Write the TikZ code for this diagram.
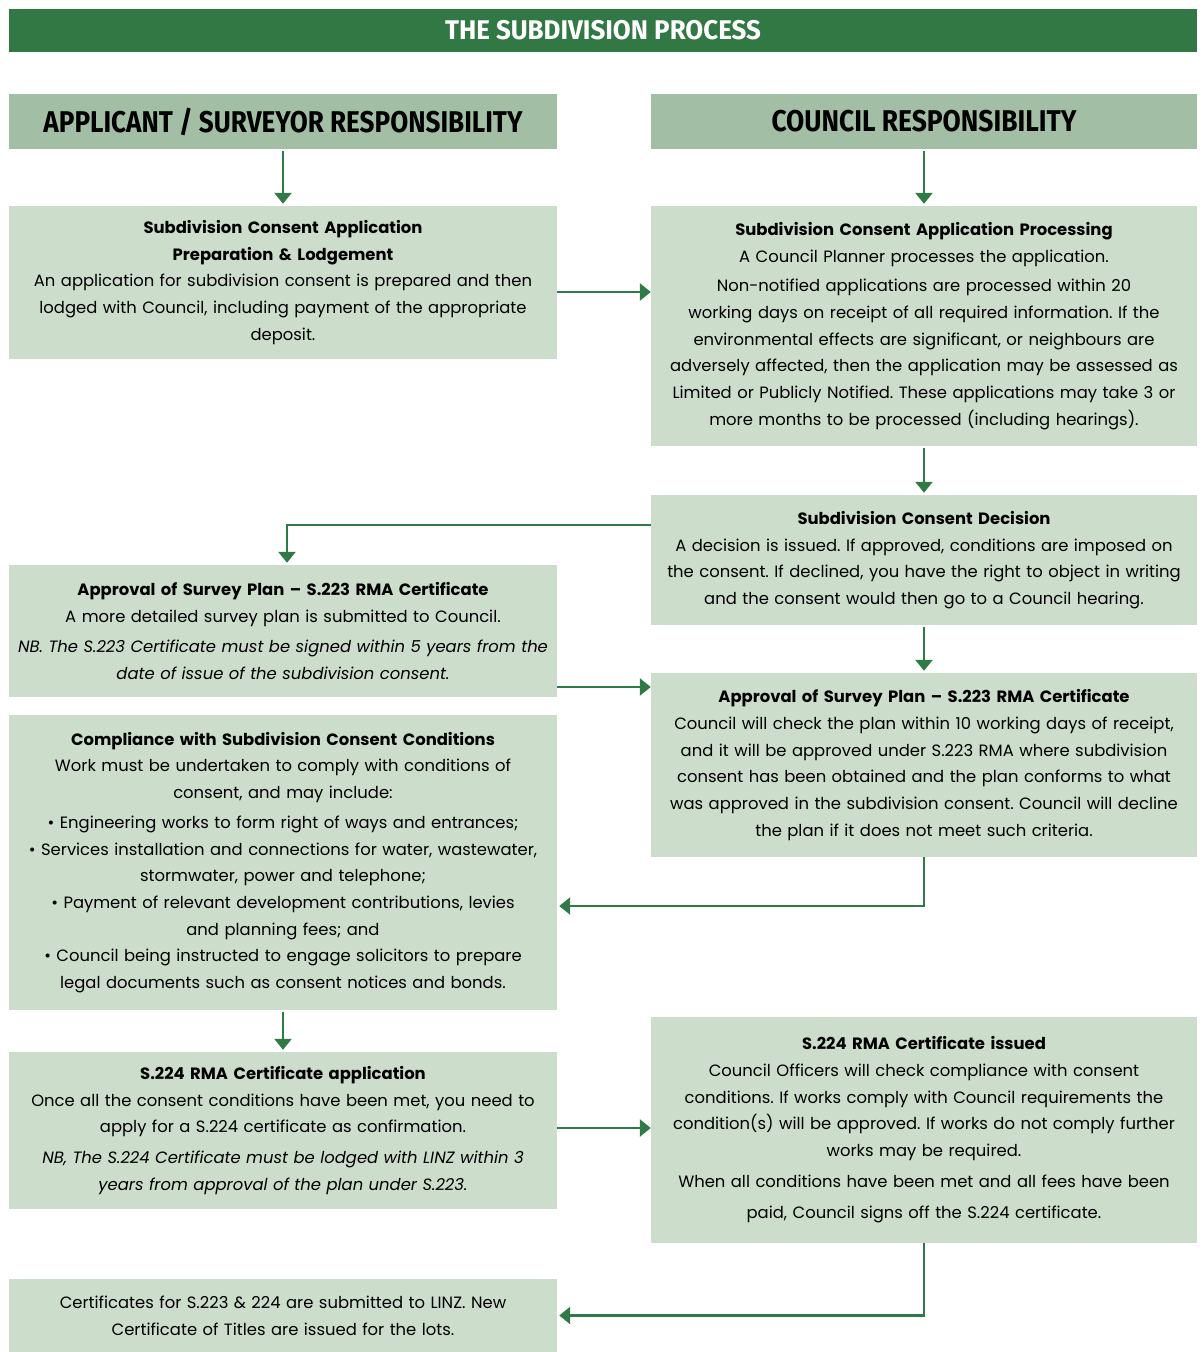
\documentclass[tikz,border=0pt]{standalone}
\usepackage{fontspec}
\setmainfont{Poppins}
\newfontfamily\headfont{Fira Sans}
\usepackage{tikz}
\usetikzlibrary{arrows.meta, calc}
\definecolor{verdescuro}{HTML}{317845}
\definecolor{verdemedio}{HTML}{A2BFA5}
\definecolor{verdechiaro}{HTML}{CCDDCC}
\definecolor{freccia}{HTML}{2F7A46}
\newcommand{\corpo}{\fontsize{16.4}{26.7}\selectfont\frenchspacing}
\newcommand{\stretto}[2]{\scalebox{#1}[1]{#2}}

\begin{document}
\begin{tikzpicture}[x=1pt, y=1pt,
    riquadro/.style = {fill=verdechiaro, minimum width=548pt, text width=540pt, inner sep=0pt, align=center, font=\corpo},
    testata/.style = {fill=verdemedio, minimum width=548pt, minimum height=55pt, inner sep=0pt, font=\headfont\bfseries\fontsize{30}{30}\selectfont},
    frecciona/.style = {draw=freccia, line width=2.6pt, -{Triangle[length=11pt, width=17pt]}}]
    % Riquadro
    \useasboundingbox (0,0) rectangle (1204,-1352);
    % Titolo
    \node[fill=verdescuro, minimum width=1188pt, minimum height=43pt, inner sep=0pt, text=white, font=\headfont\bfseries\fontsize{27}{27}\selectfont] (titolo) at (603,-30.5) {\stretto{0.96}{THE SUBDIVISION PROCESS}};
    % Testate
    \node[testata] (hl) at (283,-121.5) {\stretto{0.87}{APPLICANT / SURVEYOR RESPONSIBILITY}};
    \node[testata, minimum width=546pt] (hr) at (924,-121.5) {\stretto{0.88}{COUNCIL RESPONSIBILITY}};
    % Colonna sinistra
    \node[riquadro, minimum height=153pt] (l1) at (283,-282.5) {\textbf{Subdivision Consent Application}\\
        \textbf{Preparation \& Lodgement}\\
        An application for subdivision consent is prepared and then\\
        lodged with Council, including payment of the appropriate\\
        deposit.};
    \node[riquadro, minimum height=132pt] (l2) at (283,-631) {\textbf{Approval of Survey Plan – S.223 RMA Certificate}\\
        A more detailed survey plan is submitted to Council.\\[3pt]
        \textit{NB. The S.223 Certificate must be signed within 5 years from the}\\
        \textit{date of issue of the subdivision consent.}};
    \node[riquadro, minimum height=295pt] (l3) at (283,-862.5) {\textbf{Compliance with Subdivision Consent Conditions}\\
        Work must be undertaken to comply with conditions of\\
        consent, and may include:\\[3pt]
        • Engineering works to form right of ways and entrances;\\
        • Services installation and connections for water, wastewater,\\
        stormwater, power and telephone;\\
        • Payment of relevant development contributions, levies\\
        and planning fees; and\\
        • Council being instructed to engage solicitors to prepare\\
        legal documents such as consent notices and bonds.};
    \node[riquadro, minimum height=157pt] (l4) at (283,-1130.5) {\textbf{S.224 RMA Certificate application}\\
        Once all the consent conditions have been met, you need to\\
        apply for a S.224 certificate as confirmation.\\[4pt]
        \textit{NB, The S.224 Certificate must be lodged with LINZ within 3}\\
        \textit{years from approval of the plan under S.223.}};
    \node[riquadro, minimum height=73pt] (l5) at (283,-1315.5) {Certificates for S.223 \& 224 are submitted to LINZ. New\\
        Certificate of Titles are issued for the lots.};
    % Colonna destra
    \node[riquadro, minimum width=546pt, minimum height=240pt] (r1) at (924,-326) {\textbf{Subdivision Consent Application Processing}\\
        A Council Planner processes the application.\\[3pt]
        Non-notified applications are processed within 20\\
        working days on receipt of all required information. If the\\
        environmental effects are significant, or neighbours are\\
        adversely affected, then the application may be assessed as\\
        Limited or Publicly Notified. These applications may take 3 or\\
        more months to be processed (including hearings).};
    \node[riquadro, minimum width=546pt, minimum height=130pt] (r2) at (924,-560) {\textbf{Subdivision Consent Decision}\\
        A decision is issued. If approved, conditions are imposed on\\
        the consent. If declined, you have the right to object in writing\\
        and the consent would then go to a Council hearing.};
    \node[riquadro, minimum width=546pt, minimum height=184pt] (r3) at (924,-765) {\textbf{Approval of Survey Plan – S.223 RMA Certificate}\\
        Council will check the plan within 10 working days of receipt,\\
        and it will be approved under S.223 RMA where subdivision\\
        consent has been obtained and the plan conforms to what\\
        was approved in the subdivision consent. Council will decline\\
        the plan if it does not meet such criteria.};
    \node[riquadro, minimum width=546pt, minimum height=226pt] (r4) at (924,-1130) {\textbf{S.224 RMA Certificate issued}\\
        Council Officers will check compliance with consent\\
        conditions. If works comply with Council requirements the\\
        condition(s) will be approved. If works do not comply further\\
        works may be required.\\[4pt]
        When all conditions have been met and all fees have been\\[5pt]
        paid, Council signs off the S.224 certificate.};
    % Frecce
    \draw[frecciona, shorten <=2pt, shorten >=2pt] (hl) -- (l1);
    \draw[frecciona, shorten <=2pt, shorten >=2pt] (hr) -- (r1);
    \draw[frecciona] ([yshift=-9.5pt]l1.east) -- ([yshift=-9.5pt]l1.east -| r1.west);
    \draw[frecciona, shorten <=2pt, shorten >=2pt] (r1) -- (r2);
    \draw[frecciona, shorten >=2pt] ([yshift=35pt]r2.west) -| ([xshift=4pt]l2.north);
    \draw[frecciona] ([yshift=-56pt]l2.east) -- ([yshift=-56pt]l2.east -| r3.west);
    \draw[frecciona, shorten <=2pt, shorten >=2pt] (r2) -- (r3);
    \draw[frecciona, shorten >=2pt] (r3.south) |- ([yshift=-43.5pt]l3.east);
    \draw[frecciona, shorten <=2pt, shorten >=2pt] (l3) -- (l4);
    \draw[frecciona] ([yshift=2.5pt]l4.east) -- ([yshift=2.5pt]l4.east -| r4.west);
    \draw[frecciona, shorten >=2pt] (r4.south) |- (l5.east);
\end{tikzpicture}
\end{document}
